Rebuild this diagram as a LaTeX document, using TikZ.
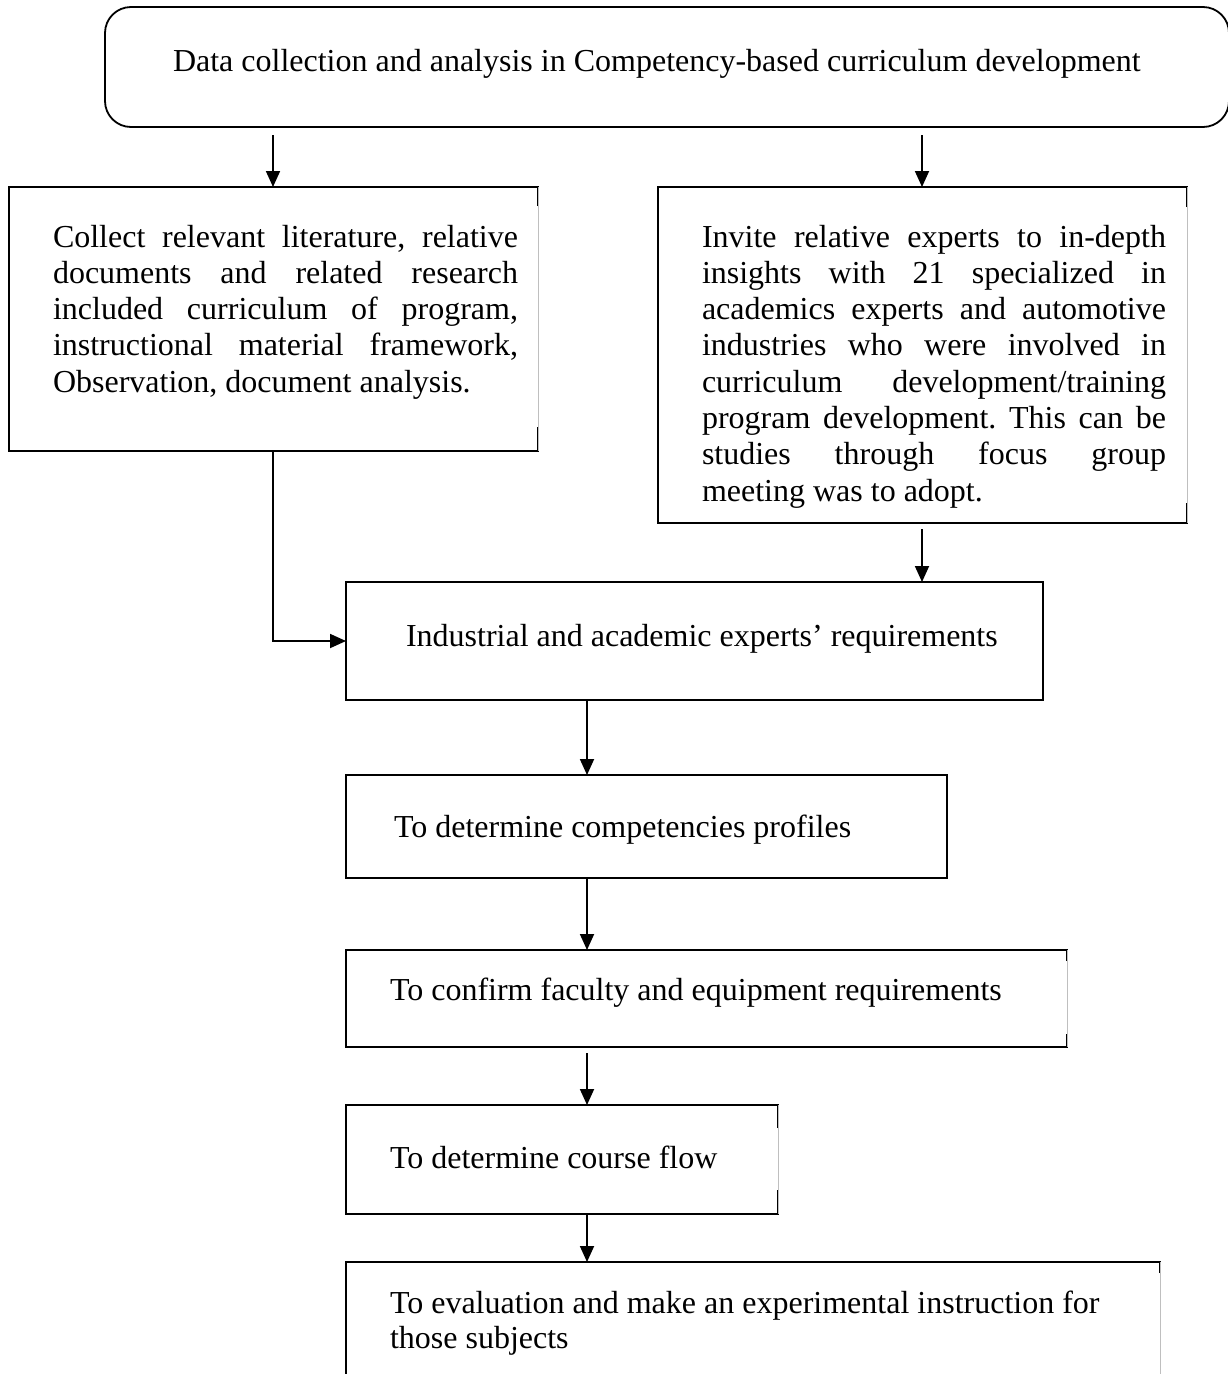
\documentclass[tikz,border=0pt]{standalone}
\usepackage{fontspec}
\setmainfont{Liberation Serif}
\usetikzlibrary{arrows.meta,calc}
\frenchspacing
\newcommand{\jline}[2]{\makebox[#1][s]{#2}}
\newcommand{\openbox}[3]{%
  \draw[edge] ($(#1.north east)+(0,#2)$) -- (#1.north east) -- (#1.north west)
     -- (#1.south west) -- (#1.south east) -- ++(0,-#3);
  \draw[faint] (#1.north east) -- (#1.south east);}
\begin{document}
\begin{tikzpicture}[x=1pt,y=-1pt,
  edge/.style={line width=1.8pt, line join=miter},
  faint/.style={line width=0.6pt, black!25},
  arr/.style={line width=1.8pt, -{Triangle[length=16pt,width=14pt]}},
  frame/.style={inner sep=0pt, outer sep=0pt, draw=none},
  txt/.style={inner sep=0pt, outer sep=0pt, anchor=base west,
              font=\fontsize{32}{36.3}\selectfont}]
\useasboundingbox (0,0) rectangle (1228,1374);
\clip (0,0) rectangle (1228,1374);

% box frames
\node[frame, minimum width=1124pt, minimum height=120pt] (top)  at (667,67) {};
\node[frame, minimum width=529pt,  minimum height=264pt] (lft)  at (273.5,319) {};
\node[frame, minimum width=529pt,  minimum height=336pt] (rgt)  at (922.5,355) {};
\node[frame, minimum width=697pt,  minimum height=118pt] (mid)  at (694.5,641) {};
\node[frame, minimum width=601pt,  minimum height=103pt] (comp) at (646.5,826.5) {};
\node[frame, minimum width=721pt,  minimum height=97pt]  (conf) at (706.5,998.5) {};
\node[frame, minimum width=432pt,  minimum height=109pt] (flow) at (562,1159.5) {};
\node[frame, minimum width=814pt,  minimum height=128pt] (last) at (753,1326) {};

\draw[edge, rounded corners=26pt] (top.north west) rectangle (top.south east);
\draw[edge] (mid.north west) rectangle (mid.south east);
\draw[edge] (comp.north west) rectangle (comp.south east);
\openbox{lft}{19}{24}
\openbox{rgt}{20}{20}
\openbox{conf}{11}{13}
\openbox{flow}{23}{24}
\openbox{last}{11}{0}

% texts
\node[txt] (ttop) at (173,71) {Data collection and analysis in Competency-based curriculum development};
\node[txt] (tlft) at (53,247) {\parbox[t]{465pt}{%
\jline{465pt}{Collect relevant literature, relative}\\
\jline{465pt}{documents and related research}\\
\jline{465pt}{included curriculum of program,}\\
\jline{465pt}{instructional material framework,}\\
Observation, document analysis.}};
\node[txt] (trgt) at (702,247) {\parbox[t]{464pt}{%
\jline{464pt}{Invite relative experts to in-depth}\\
\jline{464pt}{insights with 21 specialized in}\\
\jline{464pt}{academics experts and automotive}\\
\jline{464pt}{industries who were involved in}\\
\jline{464pt}{curriculum development/training}\\
\jline{464pt}{program development. This can be}\\
\jline{464pt}{studies through focus group}\\
meeting was to adopt.}};
\node[txt] (tmid)  at (406,646)  {Industrial and academic experts’ requirements};
\node[txt] (tcomp) at (394,837)  {To determine competencies profiles};
\node[txt] (tconf) at (390,1000) {To confirm faculty and equipment requirements};
\node[txt] (tflow) at (390,1168) {To determine course flow};
\node[txt] (tlast) at (390,1313) {\parbox[t]{760pt}{\fontsize{32}{35}\selectfont
To evaluation and make an experimental instruction for\\
those subjects}};

% connectors
\coordinate (xl) at (273,0);
\coordinate (xr) at (922,0);
\coordinate (xc) at (587,0);
\draw[arr] ($(top.south -| xl)+(0,8)$) -- (lft.north -| xl);
\draw[arr] ($(top.south -| xr)+(0,8)$) -- (rgt.north -| xr);
\draw[arr] (lft.south -| xl) |- (mid.west);
\draw[arr] ($(rgt.south -| xr)+(0,6)$) -- (mid.north -| xr);
\draw[arr] (mid.south -| xc) -- (comp.north -| xc);
\draw[arr] (comp.south -| xc) -- (conf.north -| xc);
\draw[arr] ($(conf.south -| xc)+(0,6)$) -- (flow.north -| xc);
\draw[arr] (flow.south -| xc) -- (last.north -| xc);
\end{tikzpicture}
\end{document}
